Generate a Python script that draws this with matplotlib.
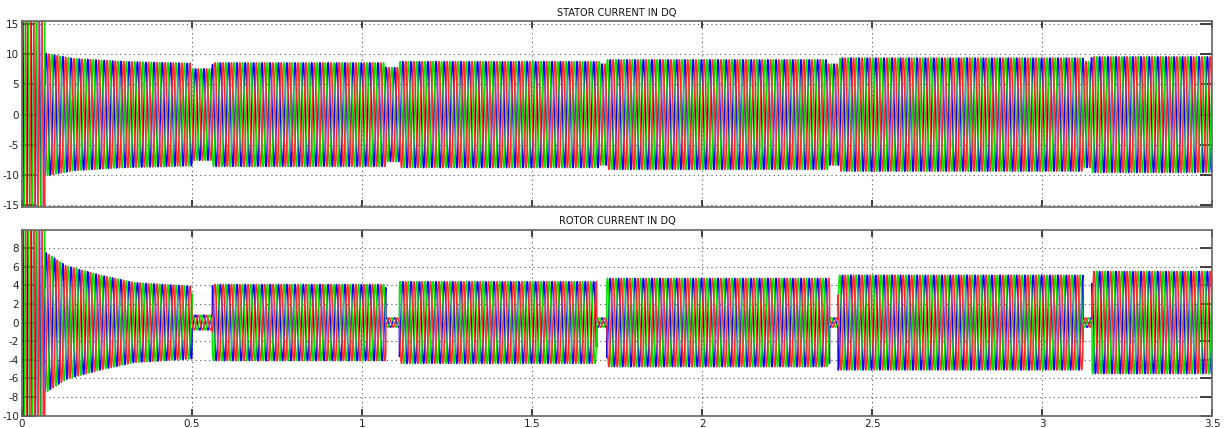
import matplotlib.pyplot as plt
import numpy as np

# scope settings
t_end = 3.5
sample_step = 5e-4
freq_hz = 41
phase_deg = [240, 120, 0]
phase_colors = ['#0000ff', '#00e600', '#ff2a2a']

# peak amplitude envelope (time in s, amplitude in A)
stator_t = [0, 0.066, 0.067, 0.15, 0.3, 0.5, 0.5, 0.56, 0.56, 1.07, 1.07, 1.11, 1.11,
            1.70, 1.70, 1.72, 1.72, 2.37, 2.37, 2.405, 2.405, 3.12, 3.12, 3.145, 3.145, 3.5]
stator_amp = [45, 30, 10.2, 9.3, 8.8, 8.5, 7.6, 7.6, 8.6, 8.6, 7.8, 7.8, 8.8,
              8.8, 8.4, 8.4, 9.1, 9.1, 8.4, 8.4, 9.4, 9.4, 8.8, 8.8, 9.6, 9.6]

rotor_t = [0, 0.066, 0.067, 0.13, 0.23, 0.33, 0.5, 0.5, 0.56, 0.56, 1.07, 1.07, 1.11, 1.11,
           1.69, 1.69, 1.72, 1.72, 2.375, 2.375, 2.40, 2.40, 3.12, 3.12, 3.147, 3.147, 3.5]
rotor_amp = [40, 25, 7.6, 6.1, 5.1, 4.3, 3.9, 0.8, 0.8, 4.1, 4.1, 0.5, 0.5, 4.4,
             4.4, 0.5, 0.5, 4.75, 4.75, 0.5, 0.5, 5.1, 5.1, 0.5, 0.5, 5.5, 5.5]

x_ticks = [0, 0.5, 1, 1.5, 2, 2.5, 3, 3.5]
x_ticklabels = ['0', '0.5', '1', '1.5', '2', '2.5', '3', '3.5']
stator_yticks = [-15, -10, -5, 0, 5, 10, 15]
rotor_yticks = [-10, -8, -6, -4, -2, 0, 2, 4, 6, 8]

t = np.arange(0, t_end + sample_step, sample_step)


def three_phase(env_t, env_a):
    amp = np.interp(t, env_t, env_a)
    return [amp * np.sin(2 * np.pi * freq_hz * t - np.deg2rad(p)) for p in phase_deg]


def style_scope(ax, title, yticks, ylim, show_xlabels):
    ax.set_xlim(0, t_end)
    ax.set_ylim(*ylim)
    ax.set_xticks(x_ticks)
    ax.set_xticklabels(x_ticklabels if show_xlabels else [])
    ax.set_yticks(yticks)
    ax.set_yticklabels([str(v) for v in yticks])
    ax.grid(True, color='#555555', linestyle=(0, (1, 3)), linewidth=0.8)
    ax.tick_params(direction='in', top=True, right=True, labelsize=7.5,
                   colors='#222222', pad=2)
    ax.tick_params(axis='x', length=5, width=1.2)
    ax.tick_params(axis='y', length=9, width=1.2)
    for s in ax.spines.values():
        s.set_color('#666666')
        s.set_linewidth(1.2)
    ax.set_title(title, fontsize=7, color='#111111', pad=4)


fig = plt.figure(figsize=(12.25, 4.28), dpi=100)
ax1 = fig.add_axes([0.018, 0.516, 0.9716, 0.4346])
ax2 = fig.add_axes([0.018, 0.028, 0.9716, 0.4346])

for ax, env_t, env_a in [(ax1, stator_t, stator_amp), (ax2, rotor_t, rotor_amp)]:
    for y, c in zip(three_phase(env_t, env_a), phase_colors):
        ax.plot(t, y, color=c, linewidth=1.1)

style_scope(ax1, 'STATOR CURRENT IN DQ', stator_yticks, (-15.35, 15.5), False)
style_scope(ax2, 'ROTOR CURRENT IN DQ', rotor_yticks, (-10.05, 9.95), True)

fig.savefig('out.png', dpi=100)
